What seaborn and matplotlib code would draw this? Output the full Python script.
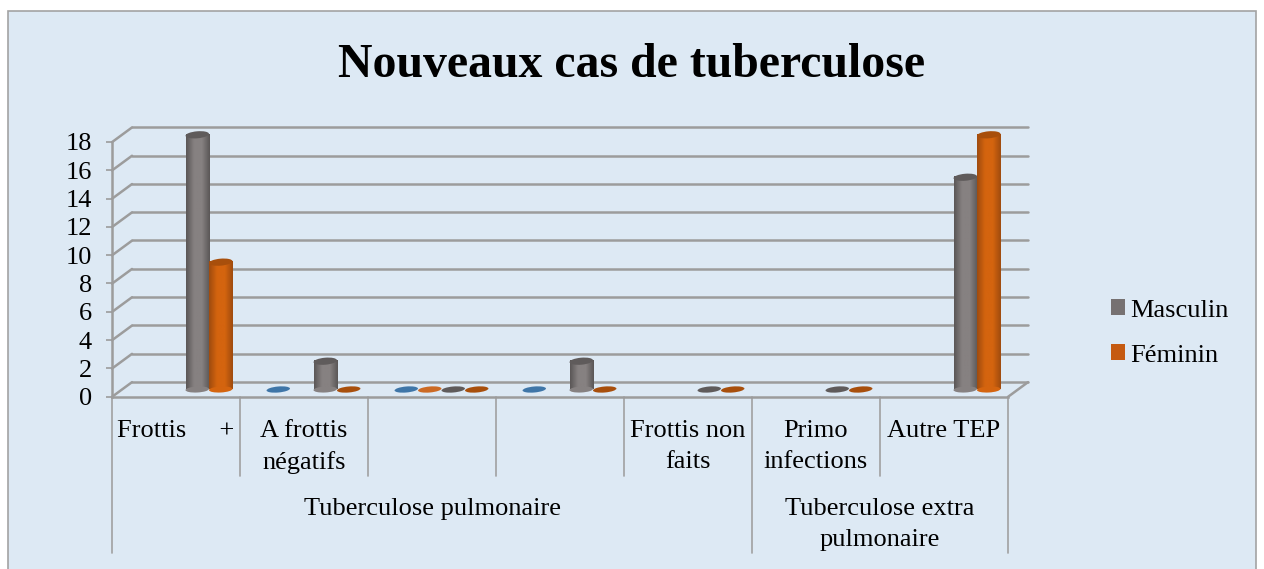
import numpy as np
import pandas as pd
import seaborn as sns
import matplotlib.pyplot as plt
from matplotlib.colors import LinearSegmentedColormap
from matplotlib.patches import Ellipse, Patch, Rectangle
from matplotlib.transforms import IdentityTransform

# Data
categories = ['Frottis +', 'A frottis négatifs', ' ', '  ', 'Frottis non faits', 'Primo infections', 'Autre TEP']
cat_labels = ['Frottis     +', 'A frottis\nnégatifs', '', '', 'Frottis non\nfaits', 'Primo\ninfections', 'Autre TEP']
groups = ['Tuberculose pulmonaire', 'Tuberculose extra\npulmonaire']
group_spans = [(0, 5), (5, 7)]
series_names = ['Série 1', 'Série 2', 'Masculin', 'Féminin']
serie_1 = [np.nan, 0, 0, 0, np.nan, np.nan, np.nan]
serie_2 = [np.nan, np.nan, 0, np.nan, np.nan, np.nan, np.nan]
masculin = [18, 2, 0, 2, 0, 0, 15]
feminin = [9, 0, 0, 0, 0, 0, 18]
yticks = list(range(0, 19, 2))

# (edge, centre, top) of each cylinder
colors = [('#34699a', '#4a80b0', '#3f76a8'),
          ('#b85a1c', '#d2702a', '#cc6a24'),
          ('#5b5757', '#868181', '#5f5b5b'),
          ('#a04c0e', '#d4640f', '#a84f0c')]
legend_cols = ['#767171', '#c55a11']
grid_col = '#9c9c9c'
bg_col = '#dde9f4'

df = pd.DataFrame({'cat': categories * 4,
                   'serie': np.repeat(series_names, 7),
                   'val': serie_1 + serie_2 + masculin + feminin})

sns.set_theme(style='white')
plt.rcParams['font.family'] = ['Liberation Serif', 'DejaVu Serif']
W, H = 1264, 569
fig = plt.figure(figsize=(W / 100, H / 100), dpi=100, facecolor='white')
fig.add_artist(Rectangle((8 / W, -0.02), 1248 / W, 0.02 + (H - 11) / H, transform=fig.transFigure,
                         fc=bg_col, ec='#a3a3a3', lw=1.2))


def make_axes(left, y0, zorder):
    # same scale for the three planes of the fake 3D box
    a = fig.add_axes([left / W, (H - y0) / H, 896 / W, 254.7 / H], zorder=zorder)
    a.patch.set_visible(False)
    a.set_xlim(-0.5, 6.5)
    a.set_ylim(0, 18)
    a.autoscale(False)
    sns.despine(ax=a, left=True, bottom=True)
    return a


back = make_axes(132, 382, 1)
ax = make_axes(121.5, 389.5, 2)
front = make_axes(112, 396.7, 3)

# back wall
back.set_yticks(yticks)
back.set_xticks([])
back.tick_params(labelleft=False, left=False)
back.grid(axis='y', color=grid_col, lw=1.8)
for g in back.get_ygridlines():
    g.set_clip_on(False)

# bars
sns.barplot(data=df, x='cat', y='val', hue='serie', order=categories, hue_order=series_names,
            width=0.734, gap=0, dodge=True, legend=False, ax=ax, saturation=1)
ax.set_xlim(-0.5, 6.5)
ax.set_ylim(0, 18)
ax.set_xlabel('')
ax.set_ylabel('')
ax.set_xticks([])
ax.set_yticks([])

z = 3
for cont, (edge, mid, top) in zip(ax.containers, colors):
    cmap = LinearSegmentedColormap.from_list('cyl', [edge, mid, mid, edge])
    for p in cont:
        h = p.get_height()
        if np.isnan(h):
            continue
        p.set_visible(False)
        x0, w = p.get_x(), p.get_width()
        (px0, py0), (px1, py1) = ax.transData.transform([(x0, 0), (x0 + w, h)])
        centre = (px0 + px1) / 2
        if h > 0:
            ax.imshow(np.linspace(0, 1, 40).reshape(1, -1), extent=[x0, x0 + w, 0, h], aspect='auto',
                      cmap=cmap, zorder=z, clip_on=False)
            ax.add_patch(Ellipse((centre, py0), px1 - px0, 6, angle=3, transform=IdentityTransform(),
                                 fc=mid, ec='none', zorder=z, clip_on=False))
        ax.add_patch(Ellipse((centre, py1), px1 - px0, 7 if h > 0 else 6, angle=5, transform=IdentityTransform(),
                             fc=top, ec='none', zorder=z + 0.5, clip_on=False))
        z += 1

# side wall and floor
dx, dy = 10 / 128, 7.35 / 14.15
for v in yticks:
    ax.plot([-0.5 + 0.5 / 128 - dx, -0.5 + 0.5 / 128 + dx], [v - dy, v + dy], color=grid_col, lw=1.8,
            clip_on=False, zorder=1)
ax.plot([6.5 + 0.5 / 128 - dx, 6.5 + 0.5 / 128 + dx], [-dy, dy], color=grid_col, lw=1.8, clip_on=False, zorder=1)

# front axis
front.spines['left'].set_visible(True)
front.spines['bottom'].set_visible(True)
for s in ('left', 'bottom'):
    front.spines[s].set_color(grid_col)
    front.spines[s].set_linewidth(1.8)
front.set_yticks(yticks)
front.set_xticks([])
front.tick_params(axis='y', length=4.5, width=1.2, color=grid_col, pad=10, labelsize=19,
                  labelcolor='black', left=True)

# multi level category axis
for i in range(8):
    low = 156 if i in (0, 5, 7) else 79
    front.plot([i - 0.5, i - 0.5], [0, -low / 14.15], color='#a0a0a0', lw=1.2, clip_on=False)
front.set_ylim(0, 18)
for i, lab in enumerate(cat_labels):
    if lab:
        front.annotate(lab, xy=(i, 0), xytext=(0, -23), textcoords='offset pixels', ha='center', va='top',
                       fontsize=19, linespacing=1.52, color='black', annotation_clip=False)
for lab, (a, b) in zip(groups, group_spans):
    front.annotate(lab, xy=((a + b - 1) / 2, 0), xytext=(0, -101), textcoords='offset pixels', ha='center',
                   va='top', fontsize=19, linespacing=1.52, color='black', annotation_clip=False)

fig.text(632 / W, (H - 65) / H, 'Nouveaux cas de tuberculose', ha='center', va='center',
         fontsize=34.4, fontweight='bold', color='black')

handles = [Patch(fc=legend_cols[0], ec='none'), Patch(fc=legend_cols[1], ec='none')]
fig.legend(handles, ['Masculin', 'Féminin'], loc='center left', bbox_to_anchor=(1100 / W, (H - 333) / H),
           frameon=False, fontsize=19, handlelength=0.55, handleheight=0.55, handletextpad=0.2,
           labelspacing=0.87, borderaxespad=0, labelcolor='black')

fig.savefig('out.png', dpi=100)
